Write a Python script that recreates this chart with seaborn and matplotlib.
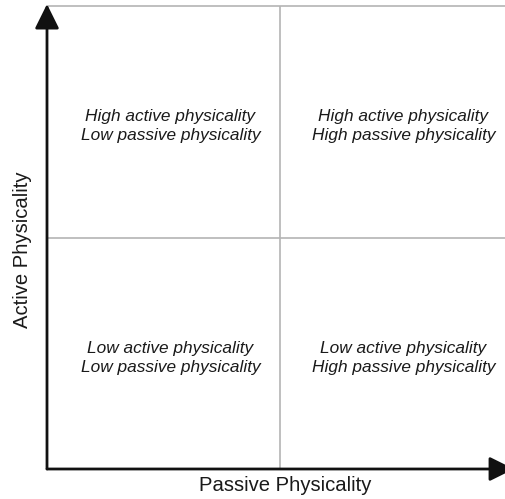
import matplotlib
matplotlib.use("Agg")
import matplotlib.pyplot as plt
import seaborn as sns

# Quadrant data
active_levels = ["Low", "High"]     # y axis, bottom -> top
passive_levels = ["Low", "High"]    # x axis, left -> right
quadrant_active = ["High", "High", "Low", "Low"]
quadrant_passive = ["Low", "High", "Low", "High"]
x_label = "Passive Physicality"
y_label = "Active Physicality"

sns.set_theme(style="white")
plt.rcParams["font.family"] = ["Liberation Sans", "DejaVu Sans"]

fig = plt.figure(figsize=(5.05, 4.99), dpi=100)
# axes runs a bit past the right edge so the divider sits at x=280px
ax = fig.add_axes([47 / 505, 30 / 499, 466 / 505, 463 / 499])
ax.set_xlim(0, len(passive_levels))
ax.set_ylim(0, len(active_levels))

# grid dividers
ax.axvline(1, color="#b4b4b4", lw=1.2)
ax.axhline(1, color="#b4b4b4", lw=1.2)

for s in ["left", "bottom", "right"]:
    ax.spines[s].set_visible(False)
ax.spines["top"].set_color("#b4b4b4")
ax.spines["top"].set_linewidth(1.2)
ax.set_xticks([])
ax.set_yticks([])

# axis arrows
arrow = dict(arrowstyle="-|>,head_length=1.25,head_width=0.62",
             color="#111111", lw=2.0, shrinkA=0, shrinkB=0)
ax.annotate("", xy=(0, 1.004), xytext=(0, 0), xycoords="axes fraction",
            arrowprops=arrow, annotation_clip=False)
ax.annotate("", xy=(1.002, 0), xytext=(0, 0), xycoords="axes fraction",
            arrowprops=arrow, annotation_clip=False)

for a, p in zip(quadrant_active, quadrant_passive):
    xi = passive_levels.index(p) + 0.53
    yi = active_levels.index(a) + 0.48
    ax.text(xi, yi, f"{a} active physicality\n{p} passive physicality",
            ha="center", va="center", style="italic", fontsize=12.4,
            color="#1a1a1a", linespacing=1.35)

ax.set_xlabel(x_label, fontsize=14.6, color="#1a1a1a")
ax.set_ylabel(y_label, fontsize=14.6, color="#1a1a1a")
ax.xaxis.set_label_coords((285 - 47) / 466, -7 / 463)
ax.yaxis.set_label_coords(-15 / 466, (469 - 250) / 463)

fig.savefig("out.png", dpi=100, facecolor="white")
